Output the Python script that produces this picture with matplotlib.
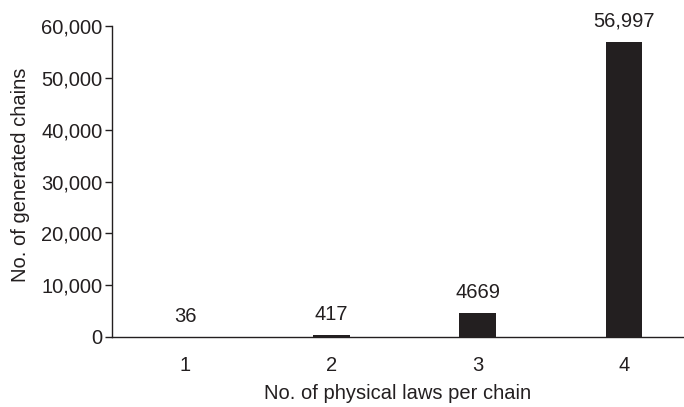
import matplotlib.pyplot as plt
from matplotlib.ticker import FuncFormatter

# dados do gráfico
leis_por_cadeia = [1, 2, 3, 4]
cadeias_geradas = [36, 417, 4669, 56997]
rotulos = ['36', '417', '4669', '56,997']

cor = '#231f20'
plt.rcParams['font.family'] = ['Liberation Sans', 'DejaVu Sans']
plt.rcParams['text.color'] = cor
plt.rcParams['axes.labelcolor'] = cor
plt.rcParams['xtick.color'] = cor
plt.rcParams['ytick.color'] = cor

fs = 14.5
fig = plt.figure(figsize=(6.84, 4.07), dpi=100)
ax = fig.add_axes([112 / 684, 70 / 407, 1 - 112 / 684, 311 / 407])

barras = ax.bar(leis_por_cadeia, cadeias_geradas, width=0.25, color=cor)
for b, r in zip(barras, rotulos):
    ax.annotate(r, (b.get_x() + b.get_width() / 2, b.get_height()),
                xytext=(0, 10.5), textcoords='offset points',
                ha='center', va='baseline', fontsize=fs)

ax.set_xlim(0.5, 4.41)
ax.set_ylim(0, 60000)
ax.set_yticks(range(0, 60001, 10000))
ax.yaxis.set_major_formatter(FuncFormatter(lambda v, p: f'{int(v):,}'))
ax.set_xticks(leis_por_cadeia)

for s in ['top', 'right']:
    ax.spines[s].set_visible(False)
for s in ['left', 'bottom']:
    ax.spines[s].set_color(cor)
    ax.spines[s].set_linewidth(1.0)

ax.tick_params(axis='y', direction='out', length=5, width=1, pad=2, labelsize=fs)
ax.tick_params(axis='x', length=0, pad=14, labelsize=fs)

ax.set_xlabel('No. of physical laws per chain', fontsize=fs, labelpad=6)
ax.set_ylabel('No. of generated chains', fontsize=fs)
ax.yaxis.set_label_coords(-0.143, 0.52)

fig.savefig('out.png', dpi=100)
